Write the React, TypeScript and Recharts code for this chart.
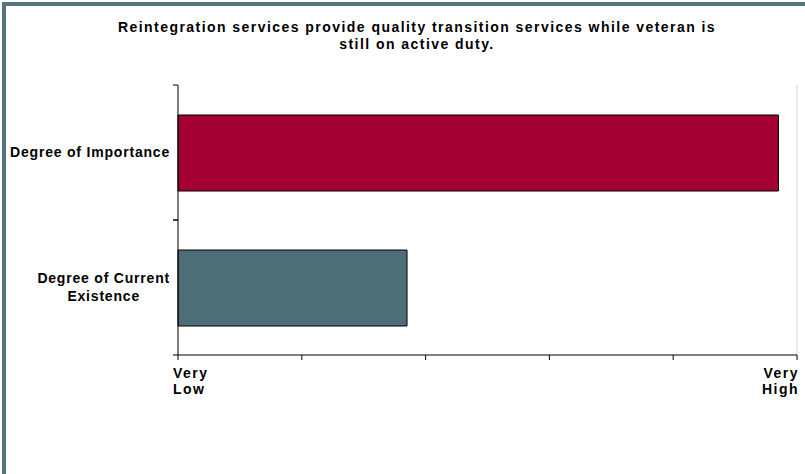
import { BarChart, Bar, Cell, XAxis, YAxis, ReferenceLine } from 'recharts';

const categories = ['Degree of Importance', 'Degree of Current Existence'];
const categoryLines = [['Degree of Importance'], ['Degree of Current', 'Existence']];
const ratings = [5.85, 2.85];
const barColors = ['#A50034', '#4E6E77'];
const scaleTicks = [1, 2, 3, 4, 5, 6];
const scaleLabels: Record<number, string[]> = { 1: ['Very', 'Low'], 6: ['Very', 'High'] };
const titleLines = [
  'Reintegration services provide quality transition services while veteran is',
  'still on active duty.',
];

const data = categories.map((name, i) => ({ name, value: ratings[i] }));

const FONT = '"Liberation Sans", Arial, sans-serif';

function CategoryTick(props: any) {
  const { x, y, payload, index } = props;
  const lines = categoryLines[index] ?? [payload.value];
  const half = payload.offset ?? 0;
  const axisX = x + 3;
  return (
    <g>
      <line x1={axisX} x2={axisX + 5} y1={y - half} y2={y - half} stroke="#000" />
      <line x1={axisX} x2={axisX + 5} y1={y + half} y2={y + half} stroke="#000" />
      <foreignObject x={x - 172} y={y - 31} width={172} height={60}>
        <div
          style={{
            height: 60,
            display: 'flex',
            alignItems: 'center',
            justifyContent: 'flex-end',
          }}
        >
          <div
            style={{
              textAlign: 'center',
              fontFamily: FONT,
              fontWeight: 'bold',
              fontSize: 14,
              letterSpacing: 0.8,
              lineHeight: '18px',
              color: '#000',
            }}
          >
            {lines.map((l: string) => (
              <div key={l}>{l}</div>
            ))}
          </div>
        </div>
      </foreignObject>
    </g>
  );
}

function ScaleTick(props: any) {
  const { x, y, payload } = props;
  const lines = scaleLabels[payload.value];
  if (!lines) return null;
  const isLow = payload.value === scaleTicks[0];
  const tx = isLow ? x - 5 : x + 2;
  return (
    <text
      x={tx}
      y={y}
      textAnchor={isLow ? 'start' : 'end'}
      fontFamily={FONT}
      fontWeight="bold"
      fontSize={14}
      letterSpacing={1.5}
      fill="#000"
    >
      {lines.map((l, i) => (
        <tspan key={l} x={tx} dy={i === 0 ? 15 : 16}>
          {l}
        </tspan>
      ))}
    </text>
  );
}

export default function App() {
  return (
    <div
      style={{
        position: 'absolute',
        left: 0,
        top: 0,
        width: 805,
        height: 474,
        overflow: 'hidden',
        background: '#fff',
      }}
    >
      <div
        style={{
          position: 'absolute',
          left: 2,
          top: 2,
          width: 900,
          height: 600,
          borderLeft: '4px solid #56737E',
          borderTop: '4px solid #56737E',
        }}
      />
      <div
        style={{
          position: 'absolute',
          left: 0,
          top: 19,
          width: 834,
          textAlign: 'center',
          fontFamily: FONT,
          fontWeight: 'bold',
          fontSize: 14,
          letterSpacing: 1.45,
          lineHeight: '17px',
          color: '#000',
        }}
      >
        {titleLines.map((t) => (
          <div key={t}>{t}</div>
        ))}
      </div>
      <div style={{ position: 'absolute', left: 0, top: 0 }}>
        <BarChart
          width={805}
          height={474}
          data={data}
          layout="vertical"
          margin={{ top: 85, right: 8, bottom: 79, left: 0 }}
        >
          <XAxis
            type="number"
            domain={[1, 6]}
            ticks={scaleTicks}
            interval={0}
            height={40}
            tickSize={5}
            tickMargin={3}
            axisLine={{ stroke: '#000' }}
            tickLine={{ stroke: '#000' }}
            tick={<ScaleTick />}
          />
          <YAxis
            type="category"
            dataKey="name"
            width={178}
            tickSize={5}
            tickMargin={3}
            axisLine={{ stroke: '#000' }}
            tickLine={false}
            tick={<CategoryTick />}
          />
          <ReferenceLine x={6} stroke="#CFCFCF" />
          <Bar dataKey="value" barSize={76} stroke="#000" strokeWidth={1} isAnimationActive={false}>
            {data.map((d, i) => (
              <Cell key={d.name} fill={barColors[i]} />
            ))}
          </Bar>
        </BarChart>
      </div>
    </div>
  );
}
